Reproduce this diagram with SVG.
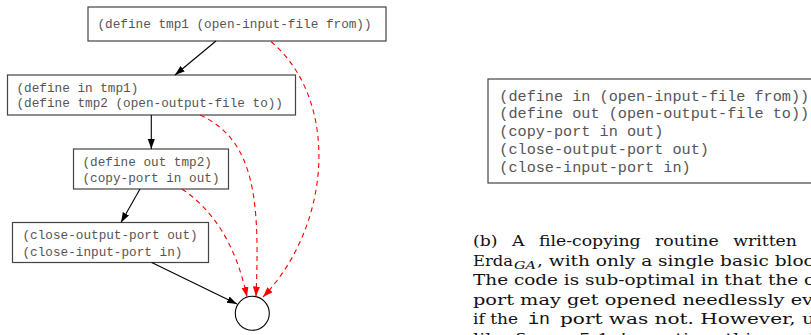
<svg xmlns="http://www.w3.org/2000/svg" width="811" height="335" viewBox="0 0 811 335">
  <style>
    .box { fill: #ffffff; stroke: #444444; stroke-width: 1.2; }
    .code { font-family: "Liberation Mono", "DejaVu Sans Mono", monospace; font-size: 12.7px; fill: #555555; }
    .code-lg { font-family: "Liberation Mono", "DejaVu Sans Mono", monospace; font-size: 15.2px; fill: #555555; }
    .flow { fill: none; stroke: #000000; stroke-width: 1.1; }
    .dep { fill: none; stroke: #ff0000; stroke-width: 1.1; stroke-dasharray: 5 4; }
    .cap { font-family: "DejaVu Serif", "Liberation Serif", serif; font-size: 15.5px; fill: #111111; }
    .cap-tt { font-family: "Liberation Mono", "DejaVu Sans Mono", monospace; font-size: 16px; fill: #111111; }
    .cap-sub { font-family: "DejaVu Serif", "Liberation Serif", serif; font-style: italic; font-size: 11.5px; fill: #111111; }
  </style>
  <defs>
    <marker id="arrow-black" markerUnits="userSpaceOnUse" markerWidth="11" markerHeight="8" refX="10" refY="3.5" orient="auto">
      <path d="M0,0 L10,3.5 L0,7 z" fill="#000000"/>
    </marker>
    <marker id="arrow-red" markerUnits="userSpaceOnUse" markerWidth="11" markerHeight="8" refX="10" refY="3.5" orient="auto">
      <path d="M0,0 L10,3.5 L0,7 z" fill="#ff0000"/>
    </marker>
  </defs>

  <rect width="811" height="335" fill="#ffffff"/>

  <!-- basic-block graph -->
  <g id="node-tmp1">
    <rect class="box" x="88" y="7" width="298" height="34"/>
    <text class="code" x="97.5" y="28">(define tmp1 (open-input-file from))</text>
  </g>
  <g id="node-in-tmp2">
    <rect class="box" x="7.5" y="75" width="288" height="40"/>
    <text class="code" x="16.5" y="91.5">(define in tmp1)</text>
    <text class="code" x="16.5" y="106.5">(define tmp2 (open-output-file to))</text>
  </g>
  <g id="node-out-copy">
    <rect class="box" x="73.5" y="149" width="155" height="40"/>
    <text class="code" x="82.5" y="165.5">(define out tmp2)</text>
    <text class="code" x="82.5" y="181.5">(copy-port in out)</text>
  </g>
  <g id="node-close">
    <rect class="box" x="12.5" y="222.5" width="196" height="40"/>
    <text class="code" x="22.5" y="239">(close-output-port out)</text>
    <text class="code" x="22.5" y="255.5">(close-input-port in)</text>
  </g>
  <g id="node-exit">
    <circle cx="252.3" cy="313.3" r="17" fill="#ffffff" stroke="#000000" stroke-width="1.1"/>
  </g>

  <g id="connectors">
    <path class="flow" d="M216,41 L175,75" marker-end="url(#arrow-black)"/>
    <path class="flow" d="M151.3,115 L151.3,149" marker-end="url(#arrow-black)"/>
    <path class="flow" d="M140,189 L121,222.5" marker-end="url(#arrow-black)"/>
    <path class="flow" d="M151.7,262.5 L237,304" marker-end="url(#arrow-black)"/>
    <path class="dep" d="M271,41.5 C340,100 332,225 263,297" marker-end="url(#arrow-red)"/>
    <path class="dep" d="M200,115 C255,140 260,200 256,296.5" marker-end="url(#arrow-red)"/>
    <path class="dep" d="M182,189 C210,208 235,240 247,297" marker-end="url(#arrow-red)"/>
  </g>

  <!-- single-block listing -->
  <g id="listing">
    <rect class="box" x="488" y="79" width="340" height="104"/>
    <text class="code-lg" x="499.3" y="100.5">(define in (open-input-file from))</text>
    <text class="code-lg" x="499.3" y="118.3">(define out (open-output-file to))</text>
    <text class="code-lg" x="499.3" y="136">(copy-port in out)</text>
    <text class="code-lg" x="499.3" y="153.8">(close-output-port out)</text>
    <text class="code-lg" x="499.3" y="171.5">(close-input-port in)</text>
  </g>

  <!-- caption -->
  <g id="caption">
    <text class="cap" x="473" y="246" word-spacing="8" textLength="324" lengthAdjust="spacingAndGlyphs">(b) A file-copying routine written</text>
    <text class="cap" x="473" y="265.5" textLength="40" lengthAdjust="spacingAndGlyphs">Erda</text>
    <text class="cap-sub" x="514" y="269" textLength="22" lengthAdjust="spacingAndGlyphs">GA</text>
    <text class="cap" x="537" y="265.5" textLength="277" lengthAdjust="spacingAndGlyphs">, with only a single basic bloc</text>
    <text class="cap" x="473" y="285" textLength="342" lengthAdjust="spacingAndGlyphs">The code is sub-optimal in that the o</text>
    <text class="cap" x="473" y="304.5" textLength="340" lengthAdjust="spacingAndGlyphs">port may get opened needlessly ev</text>
    <text class="cap" x="473" y="324" textLength="45" lengthAdjust="spacingAndGlyphs">if the</text>
    <text class="cap-tt" x="528" y="324" textLength="22" lengthAdjust="spacingAndGlyphs">in</text>
    <text class="cap" x="560" y="324" textLength="255" lengthAdjust="spacingAndGlyphs">port was not.  However, u</text>
    <text class="cap" x="473" y="343.5" textLength="342" lengthAdjust="spacingAndGlyphs">like figure 5.1c’s routine, this versi</text>
  </g>
</svg>
